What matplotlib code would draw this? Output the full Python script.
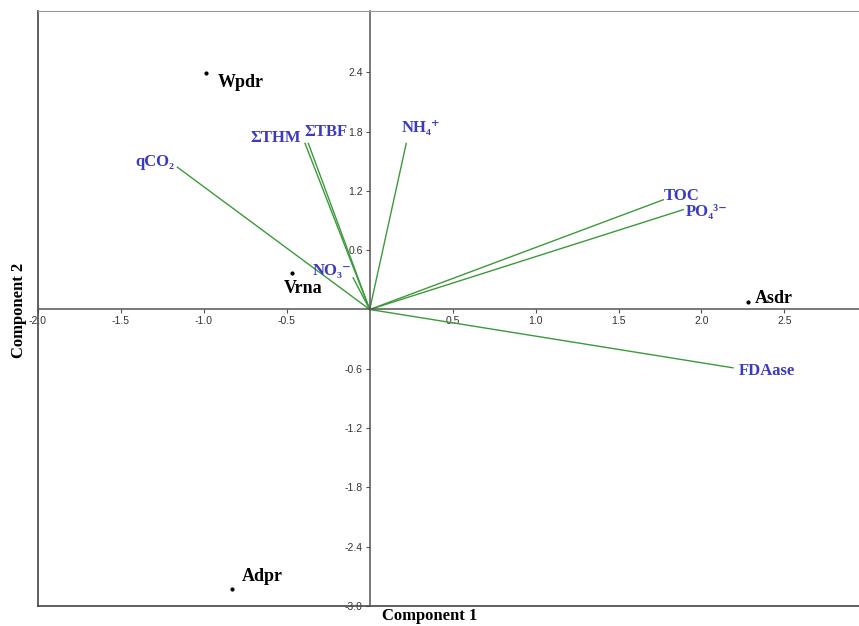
import matplotlib
matplotlib.use('Agg')
import matplotlib.pyplot as plt

# Datos del biplot (componentes 1 y 2) ----

variables = ['qCO₂', 'ΣTHM', 'ΣTBF', 'NO₃⁻', 'NH₄⁺', 'TOC', 'PO₄³⁻', 'FDAase']
var_c1 = [-1.16, -0.39, -0.37, -0.10, 0.22, 1.77, 1.89, 2.19]
var_c2 = [1.44, 1.68, 1.68, 0.32, 1.68, 1.11, 1.01, -0.59]

sitios = ['Wpdr', 'Vrna', 'Asdr', 'Adpr']
sitio_c1 = [-0.99, -0.47, 2.28, -0.83]
sitio_c2 = [2.39, 0.37, 0.08, -2.83]

xticks = [-2.0, -1.5, -1.0, -0.5, 0.5, 1.0, 1.5, 2.0, 2.5]
yticks = [-3.0, -2.4, -1.8, -1.2, -0.6, 0.6, 1.2, 1.8, 2.4]

# desplazamiento de etiquetas (puntos) y alineacion
off_var = [(-2, 4, 'right'), (-3, 4, 'right'), (-3, 8, 'left'), (-1, 5, 'right'),
           (-3, 11, 'left'), (0, 3, 'left'), (2, -2, 'left'), (4, -2, 'left')]
off_sitio = [(9, -7), (-6, -11), (5, 2), (7, 9)]

SERIF = ['Liberation Serif', 'DejaVu Serif']
AZUL = '#3a3ac4'
VERDE = '#3c9a3c'

fig = plt.figure(figsize=(8.59, 6.26), dpi=100)
ax = fig.add_axes([38 / 859, 1 - 606 / 626, 1 - 38 / 859, (606 - 11) / 626])
ax.set_xlim(-2.0, 2.95)
ax.set_ylim(-3.0, 3.02)

# ejes cruzando en el origen
ax.spines['left'].set_position(('data', 0))
ax.spines['bottom'].set_position(('data', 0))
ax.spines['right'].set_visible(False)
ax.spines['top'].set_color('#999999')
for s in ['left', 'bottom']:
    ax.spines[s].set_color('#555555')
    ax.spines[s].set_linewidth(1.1)
ax.plot([0, 0], [0, 1], transform=ax.transAxes, color='#444444', lw=1.2, clip_on=False)
ax.plot([0, 1], [0, 0], transform=ax.transAxes, color='#444444', lw=1.2, clip_on=False)

ax.set_xticks(xticks)
ax.set_yticks(yticks)
ax.set_xticklabels([f'{t:.1f}' for t in xticks])
ax.set_yticklabels([f'{t:.1f}' for t in yticks])
ax.tick_params(length=3, width=0.8, color='#555555', labelsize=7.5, labelcolor='#333333', pad=2)
for lab in ax.get_xticklabels() + ax.get_yticklabels():
    lab.set_family(['Liberation Sans Narrow', 'Liberation Sans', 'DejaVu Sans'])

# vectores de variables
for nombre, x, y, (dx, dy, ha) in zip(variables, var_c1, var_c2, off_var):
    ax.plot([0, x], [0, y], color=VERDE, lw=1.0)
    ax.annotate(nombre, (x, y), xytext=(dx, dy), textcoords='offset points',
                ha=ha, va='center', color=AZUL, fontsize=12, fontweight='bold',
                family=SERIF)

# sitios
ax.plot(sitio_c1, sitio_c2, 'o', color='black', markersize=2)
for nombre, x, y, (dx, dy) in zip(sitios, sitio_c1, sitio_c2, off_sitio):
    ax.annotate(nombre, (x, y), xytext=(dx, dy), textcoords='offset points',
                ha='left', va='center', color='black', fontsize=13, fontweight='bold',
                family=SERIF)

fig.text(430 / 859, 1 - 616 / 626, 'Component 1', ha='center', va='center',
         fontsize=12, fontweight='bold', family=SERIF)
fig.text(19 / 859, 1 - 310 / 626, 'Component 2', ha='center', va='center',
         rotation=90, fontsize=12, fontweight='bold', family=SERIF)

fig.savefig('out.png', dpi=100)
